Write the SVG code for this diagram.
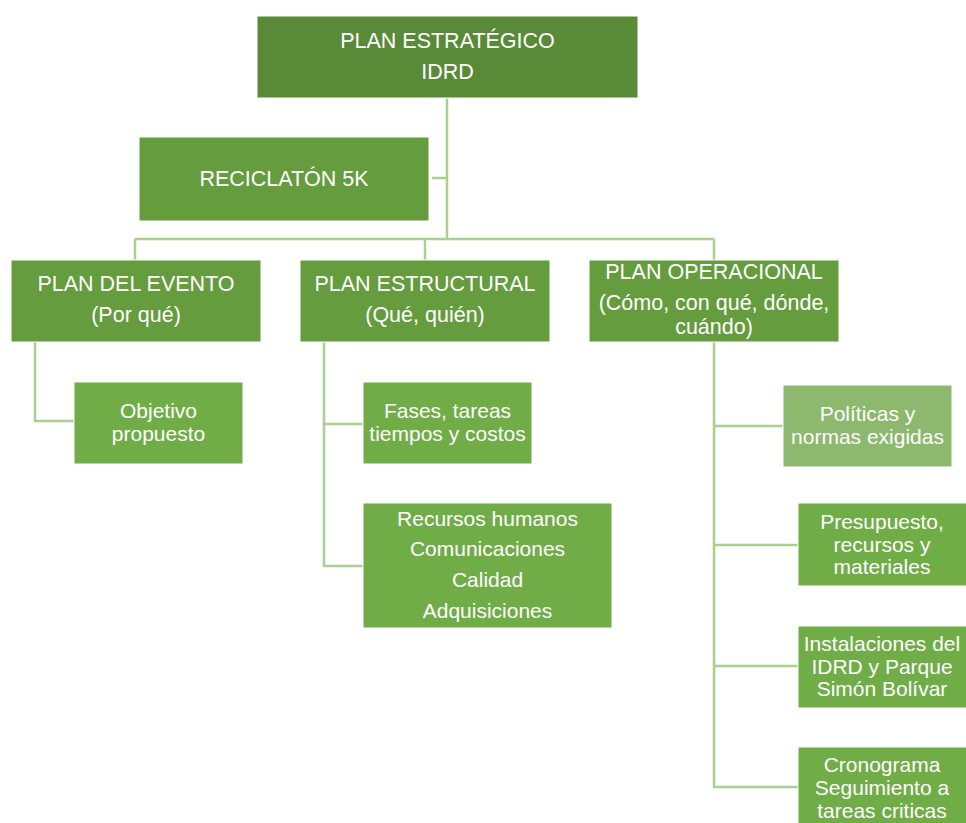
<svg xmlns="http://www.w3.org/2000/svg" width="966" height="823" viewBox="0 0 966 823">
<style>
.t{font-family:"Liberation Sans",Arial,sans-serif;font-size:21.5px;fill:#fff;text-anchor:middle}
.s{font-size:21px}
.c{stroke:#a9d08e;stroke-width:2.5;fill:none}
.top{fill:#588a37;stroke:#fff;stroke-width:1}
.l2{fill:#649c3e;stroke:#fff;stroke-width:1}
.lf{fill:#70ad47;stroke:#fff;stroke-width:1}
.lt{fill:#8cb96e;stroke:#fff;stroke-width:1}
</style>
<rect width="966" height="823" fill="#fff"/>
<g id="connectors">
<path class="c" d="M447 98V239M432 178H447M135 239H714M135 239V260M425 239V260M714 239V260"/>
<path class="c" d="M35 342V421H74"/>
<path class="c" d="M324 342V566H363M324 424H363"/>
<path class="c" d="M714 342V787H798M714 426H783M714 545H798M714 666H798"/>
</g>
<g id="n-plan"><rect class="top" x="257" y="16" width="381" height="82"/>
<text class="t" x="447.5" y="48">PLAN ESTRATÉGICO</text><text class="t" x="447.5" y="79">IDRD</text></g>
<g id="n-reci"><rect class="l2" x="139" y="137" width="290" height="84"/>
<text class="t" x="284" y="186">RECICLATÓN 5K</text></g>
<g id="n-evento"><rect class="l2" x="11" y="260" width="250" height="82"/>
<text class="t" x="136" y="291">PLAN DEL EVENTO</text><text class="t" x="136" y="322">(Por qué)</text></g>
<g id="n-estruct"><rect class="l2" x="300" y="260" width="250" height="82"/>
<text class="t" x="425" y="291">PLAN ESTRUCTURAL</text><text class="t" x="425" y="322">(Qué, quién)</text></g>
<g id="n-oper"><rect class="l2" x="589" y="260" width="250" height="82"/>
<text class="t" x="714" y="279">PLAN OPERACIONAL</text><text class="t" x="714" y="310">(Cómo, con qué, dónde,</text><text class="t" x="714" y="334">cuándo)</text></g>
<g id="n-obj"><rect class="lf" x="74" y="382" width="169" height="82"/>
<text class="t s" x="158.5" y="418">Objetivo</text><text class="t s" x="158.5" y="441">propuesto</text></g>
<g id="n-fases"><rect class="lf" x="363" y="382" width="169" height="82"/>
<text class="t s" x="447.5" y="418">Fases, tareas</text><text class="t s" x="447.5" y="441">tiempos y costos</text></g>
<g id="n-rec"><rect class="lf" x="363" y="503" width="249" height="125"/>
<text class="t s" x="487.5" y="526">Recursos humanos</text><text class="t s" x="487.5" y="556">Comunicaciones</text><text class="t s" x="487.5" y="587">Calidad</text><text class="t s" x="487.5" y="618">Adquisiciones</text></g>
<g id="n-pol"><rect class="lt" x="783" y="385" width="169" height="82"/>
<text class="t s" x="867.5" y="421">Políticas y</text><text class="t s" x="867.5" y="444">normas exigidas</text></g>
<g id="n-pres"><rect class="lf" x="798" y="503" width="169" height="83"/>
<text class="t s" x="882" y="529">Presupuesto,</text><text class="t s" x="882" y="552">recursos y</text><text class="t s" x="882" y="574">materiales</text></g>
<g id="n-inst"><rect class="lf" x="798" y="626" width="169" height="82"/>
<text class="t s" x="882" y="651">Instalaciones del</text><text class="t s" x="882" y="674">IDRD y Parque</text><text class="t s" x="882" y="696">Simón Bolívar</text></g>
<g id="n-cron"><rect class="lf" x="798" y="747" width="169" height="82"/>
<text class="t s" x="882" y="772">Cronograma</text><text class="t s" x="882" y="795">Seguimiento  a</text><text class="t s" x="882" y="818">tareas criticas</text></g>
</svg>
